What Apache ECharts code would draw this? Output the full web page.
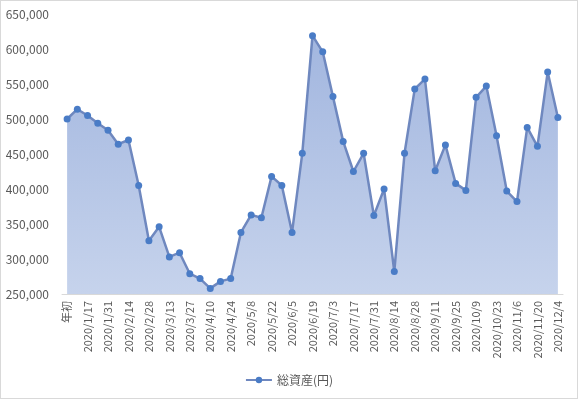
<!DOCTYPE html>
<html>
<head>
<meta charset="utf-8">
<script src="https://cdn.jsdelivr.net/npm/echarts@6/dist/echarts.min.js"></script>
<style>
  html, body { margin: 0; padding: 0; background: #fff; }
  #main { width: 576px; height: 397px; border: 1px solid #d9d9d9; }
</style>
</head>
<body>
<div id="main"></div>
<script>
// 週ごとの日付ラベル(年初 + 2020/1/10 〜 2020/12/4)
var weekDates = ['2020/1/10', '2020/1/17', '2020/1/24', '2020/1/31', '2020/2/7', '2020/2/14', '2020/2/21', '2020/2/28',
    '2020/3/6', '2020/3/13', '2020/3/20', '2020/3/27', '2020/4/3', '2020/4/10', '2020/4/17', '2020/4/24',
    '2020/5/1', '2020/5/8', '2020/5/15', '2020/5/22', '2020/5/29', '2020/6/5', '2020/6/12', '2020/6/19',
    '2020/6/26', '2020/7/3', '2020/7/10', '2020/7/17', '2020/7/24', '2020/7/31', '2020/8/7', '2020/8/14',
    '2020/8/21', '2020/8/28', '2020/9/4', '2020/9/11', '2020/9/18', '2020/9/25', '2020/10/2', '2020/10/9',
    '2020/10/16', '2020/10/23', '2020/10/30', '2020/11/6', '2020/11/13', '2020/11/20', '2020/11/27', '2020/12/4'];
var categories = ['年初'].concat(weekDates);

// 総資産(円)
var totalAssets = [500000, 514000, 505000, 494000, 484000, 464000, 470000, 405000,
    326000, 346000, 303000, 309000, 279000, 272000, 258000, 268000,
    272000, 338000, 363000, 359000, 418000, 405000, 338000, 451000,
    619000, 596000, 532000, 468000, 425000, 451000, 362000, 400000,
    282000, 451000, 543000, 557000, 426000, 463000, 408000, 398000,
    531000, 547000, 476000, 397000, 382000, 488000, 461000, 567000, 502000];

var yMin = 250000;
var yMax = 650000;
var yStep = 50000;

var myChart = echarts.init(document.getElementById('main'));
var option = {
    animation: false,
    textStyle: { fontFamily: 'Noto Sans CJK JP', color: '#595959' },
    grid: { left: 61, right: 14, top: 13, bottom: 104 },
    legend: {
        bottom: 7,
        left: 'center',
        data: ['総資産(円)'],
        itemWidth: 26,
        itemHeight: 8,
        itemGap: 4,
        textStyle: { fontSize: 12, color: '#595959' }
    },
    xAxis: {
        type: 'category',
        data: categories,
        boundaryGap: true,
        axisLine: { lineStyle: { color: '#d9d9d9', width: 1 } },
        axisTick: { show: false },
        axisLabel: {
            interval: 1,
            rotate: 90,
            fontSize: 11,
            color: '#595959',
            margin: 7
        }
    },
    yAxis: {
        type: 'value',
        min: yMin,
        max: yMax,
        interval: yStep,
        axisLine: { show: false },
        axisTick: { show: false },
        splitLine: { show: false },
        axisLabel: {
            fontSize: 12,
            color: '#595959',
            margin: 13,
            formatter: function (v) { return v.toLocaleString('en-US'); }
        }
    },
    series: [
        {
            name: '総資産(円)',
            type: 'line',
            data: totalAssets,
            symbol: 'circle',
            symbolSize: 7,
            showAllSymbol: true,
            lineStyle: { color: '#6f88bf', width: 2.5 },
            itemStyle: { color: '#4a7cc6' },
            areaStyle: {
                opacity: 1,
                color: new echarts.graphic.LinearGradient(0, 0, 0, 1, [
                    { offset: 0, color: '#a2b6df' },
                    { offset: 1, color: '#c6d3ec' }
                ]),
                origin: 'start'
            }
        }
    ]
};
myChart.setOption(option, true);
</script>
</body>
</html>
